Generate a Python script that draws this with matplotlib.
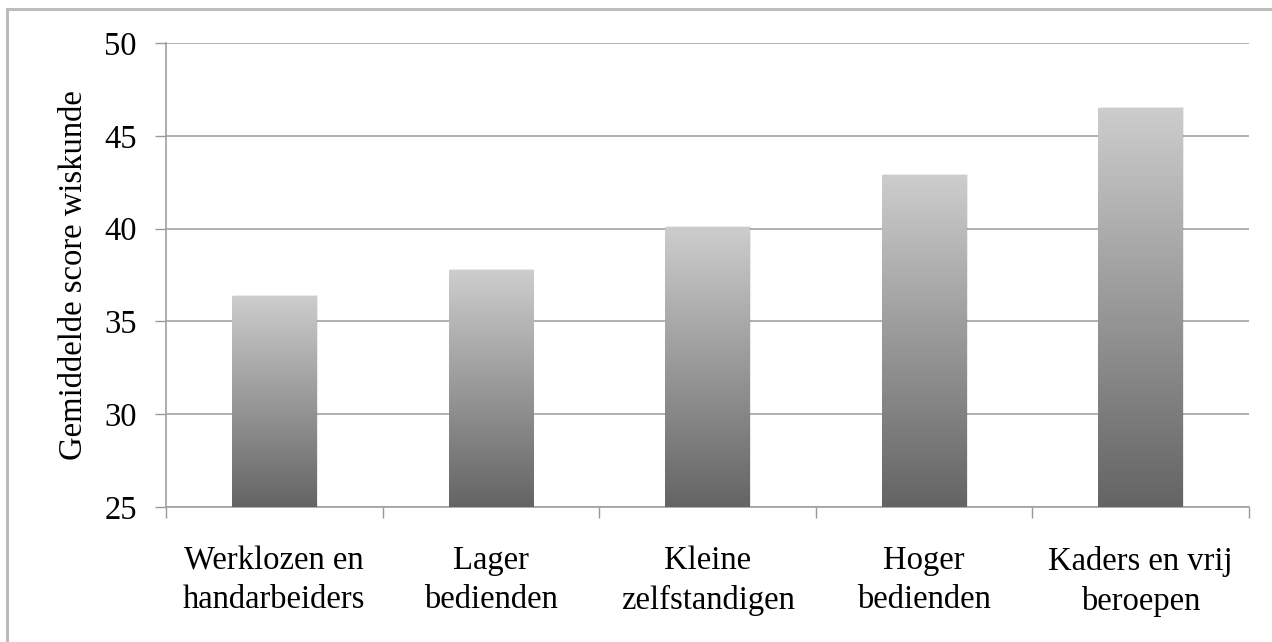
import numpy as np
import matplotlib.pyplot as plt
from matplotlib.patches import Rectangle

categories = ["Werklozen en\nhandarbeiders", "Lager\nbedienden", "Kleine\nzelfstandigen",
              "Hoger\nbedienden", "Kaders en vrij\nberoepen"]
scores = [36.35, 37.75, 40.1, 42.9, 46.5]
y_ticks = [25, 30, 35, 40, 45, 50]
y_label = "Gemiddelde score wiskunde"

plt.rcParams['font.family'] = ['Liberation Serif', 'DejaVu Serif']

W, H = 1272, 642
fig = plt.figure(figsize=(W / 100, H / 100), dpi=100)

# outer frame of the picture
fig.patches.append(Rectangle((7 / W, -0.05), 1.1, (H - 9) / H + 0.05,
                             transform=fig.transFigure, fill=False,
                             edgecolor='#bcbcbc', linewidth=2.2))

ax = fig.add_axes([166 / W, (H - 507) / H, (1249 - 166) / W, (507 - 43) / H])
x = np.arange(len(categories))

# bars with a vertical grey gradient
grad = np.linspace(0, 1, 256).reshape(-1, 1)
cmap = plt.matplotlib.colors.LinearSegmentedColormap.from_list('g', ['#646464', '#cdcdcd'])
bars = ax.bar(x, scores, width=0.39, bottom=0, color='none', edgecolor='none', zorder=3)
for b, v in zip(bars, scores):
    x0 = b.get_x()
    w = b.get_width()
    # soft shadow
    ax.add_patch(Rectangle((x0 + 0.006, 25), w, v - 25 + 0.05, facecolor='#000000',
                           alpha=0.08, edgecolor='none', zorder=2))
    im = ax.imshow(grad, cmap=cmap, origin='lower', aspect='auto',
                   extent=[x0, x0 + w, 25, v], zorder=3)
    im.set_clip_path(b)

ax.set_xlim(-0.5, len(categories) - 0.5)
ax.set_ylim(25, 50)
ax.set_yticks(y_ticks)
ax.yaxis.grid(True, color='#b0b0b0', linewidth=1.4, zorder=1)
ax.set_axisbelow(True)

ax.set_xticks(np.arange(-0.5, len(categories), 1.0))
ax.set_xticklabels([])
ax.set_xticks(x, minor=True)
ax.set_xticklabels(categories, minor=True, fontsize=23.5, linespacing=1.36)
ax.tick_params(axis='x', which='minor', length=0, pad=28)
ax.tick_params(axis='x', which='major', length=8, width=1, color='#999999')
ax.tick_params(axis='y', length=8, width=1, color='#999999', pad=13, labelsize=23.5)

for s in ['top', 'right']:
    ax.spines[s].set_visible(False)
for s in ['left', 'bottom']:
    ax.spines[s].set_color('#a0a0a0')
    ax.spines[s].set_linewidth(1.2)

ax.set_ylabel(y_label, fontsize=23.5, labelpad=11)

fig.savefig('out.png', dpi=100)
